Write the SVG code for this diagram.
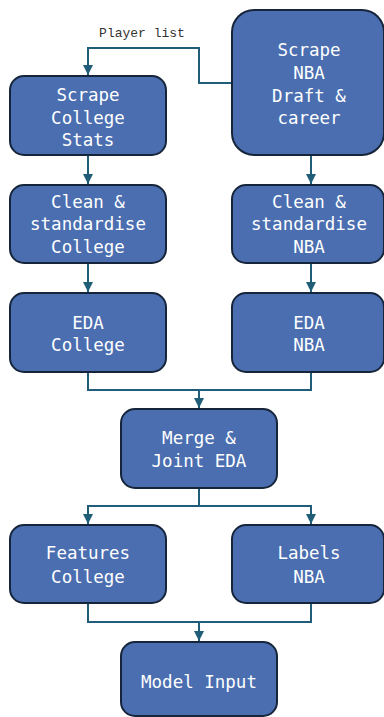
<svg xmlns="http://www.w3.org/2000/svg" width="384" height="717" viewBox="0 0 384 717">
<style>
.box{fill:#4a6eb0;stroke:#16253a;stroke-width:2}
.t{font-family:"DejaVu Sans Mono","Liberation Mono",monospace;font-size:17.5px;fill:#ffffff;text-anchor:middle}
.c{fill:none;stroke:#1f5d78;stroke-width:2}
.lbl{font-family:"Liberation Mono","DejaVu Sans Mono",monospace;font-size:13px;fill:#333333;text-anchor:middle}
</style>
<defs>
<marker id="ah" viewBox="0 0 10 10" refX="10" refY="5" markerWidth="5" markerHeight="5" orient="auto" markerUnits="strokeWidth">
<path d="M0,0 L10,5 L0,10 z" fill="#1f5d78"/>
</marker>
</defs>
<rect width="384" height="717" fill="#ffffff"/>
<g id="connectors">
<path class="c" d="M232,83 H199 V48 H88 V75" marker-end="url(#ah)"/>
<text class="lbl" x="142" y="37">Player list</text>
<path class="c" d="M88,156 V184" marker-end="url(#ah)"/>
<path class="c" d="M311,156 V184" marker-end="url(#ah)"/>
<path class="c" d="M88,264 V292" marker-end="url(#ah)"/>
<path class="c" d="M311,264 V292" marker-end="url(#ah)"/>
<path class="c" d="M88,373 V390 H311 V373"/>
<path class="c" d="M199,390 V408" marker-end="url(#ah)"/>
<path class="c" d="M199,489 V506"/>
<path class="c" d="M88,524 V506 H311 V524" marker-end="url(#ah)"/>
<path class="c" d="M88,506 V524" marker-end="url(#ah)"/>
<path class="c" d="M88,604 V622 H311 V604"/>
<path class="c" d="M199,622 V641" marker-end="url(#ah)"/>
</g>
<g id="scrape-college">
<rect class="box" x="10" y="76" width="156" height="79" rx="14"/>
<text class="t" x="88" y="101">Scrape</text>
<text class="t" x="88" y="124">College</text>
<text class="t" x="88" y="146">Stats</text>
</g>
<g id="scrape-nba">
<rect class="box" x="232" y="10" width="152" height="145" rx="22"/>
<text class="t" x="309" y="56">Scrape</text>
<text class="t" x="309" y="79">NBA</text>
<text class="t" x="309" y="102">Draft &amp;</text>
<text class="t" x="309" y="124">career</text>
</g>
<g id="clean-college">
<rect class="box" x="10" y="185" width="156" height="78" rx="14"/>
<text class="t" x="88" y="208">Clean &amp;</text>
<text class="t" x="88" y="230">standardise</text>
<text class="t" x="88" y="253">College</text>
</g>
<g id="clean-nba">
<rect class="box" x="232" y="185" width="152" height="78" rx="14"/>
<text class="t" x="309" y="208">Clean &amp;</text>
<text class="t" x="309" y="230">standardise</text>
<text class="t" x="309" y="253">NBA</text>
</g>
<g id="eda-college">
<rect class="box" x="10" y="293" width="156" height="79" rx="14"/>
<text class="t" x="88" y="329">EDA</text>
<text class="t" x="88" y="351">College</text>
</g>
<g id="eda-nba">
<rect class="box" x="232" y="293" width="152" height="79" rx="14"/>
<text class="t" x="309" y="329">EDA</text>
<text class="t" x="309" y="351">NBA</text>
</g>
<g id="merge">
<rect class="box" x="121" y="409" width="156" height="79" rx="14"/>
<text class="t" x="199" y="444">Merge &amp;</text>
<text class="t" x="199" y="467">Joint EDA</text>
</g>
<g id="features">
<rect class="box" x="10" y="525" width="156" height="78" rx="14"/>
<text class="t" x="88" y="559">Features</text>
<text class="t" x="88" y="583">College</text>
</g>
<g id="labels">
<rect class="box" x="232" y="525" width="152" height="78" rx="14"/>
<text class="t" x="309" y="559">Labels</text>
<text class="t" x="309" y="583">NBA</text>
</g>
<g id="model-input">
<rect class="box" x="121" y="642" width="156" height="74" rx="14"/>
<text class="t" x="199" y="688">Model Input</text>
</g>
</svg>
